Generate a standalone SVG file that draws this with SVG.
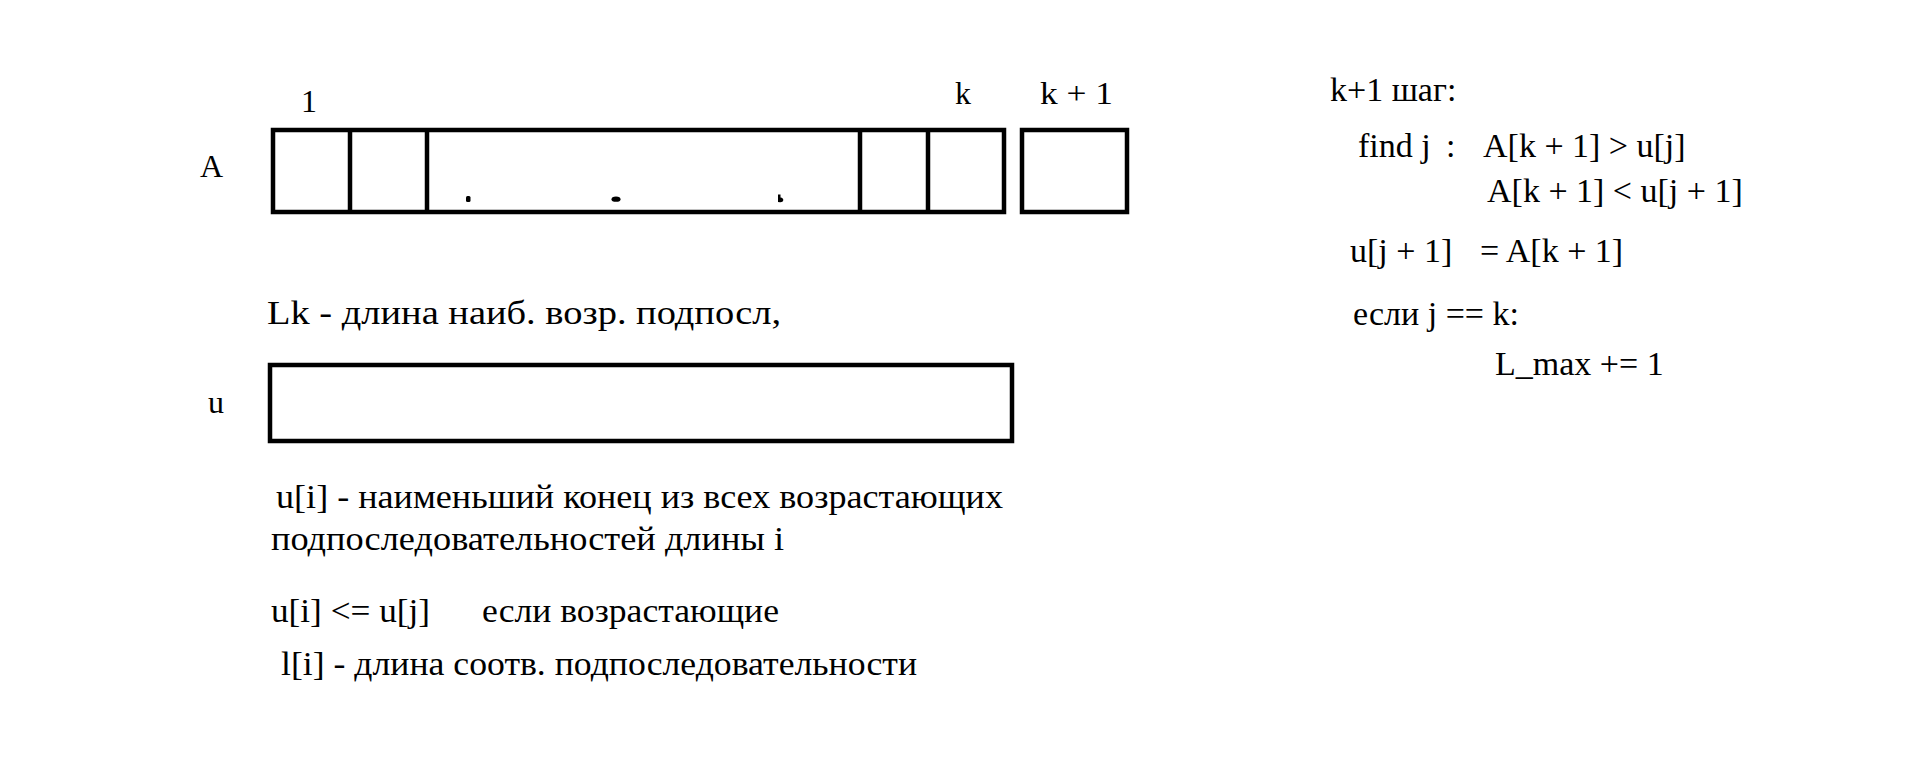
<svg xmlns="http://www.w3.org/2000/svg" width="1914" height="779" viewBox="0 0 1914 779">
<style>
.t{font-family:"Liberation Serif","Times New Roman",serif;fill:#000}
.l{font-size:34px}
.s{font-size:32px}
.r{font-size:34px}
.box{fill:none;stroke:#000;stroke-width:4.5}
.div{stroke:#000;stroke-width:4.5}
</style>
<rect width="1914" height="779" fill="#fff"/>
<g id="array-A">
<text class="t s" x="200" y="177">A</text>
<text class="t s" x="301" y="112">1</text>
<text class="t s" x="955" y="104">k</text>
<text class="t s" x="1040" y="104" textLength="73" lengthAdjust="spacingAndGlyphs">k + 1</text>
<rect class="box" x="273" y="130" width="731" height="82"/>
<line class="div" x1="350" y1="130" x2="350" y2="212"/>
<line class="div" x1="427" y1="130" x2="427" y2="212"/>
<line class="div" x1="860" y1="130" x2="860" y2="212"/>
<line class="div" x1="928" y1="130" x2="928" y2="212"/>
<rect class="box" x="1022" y="130" width="105" height="82"/>
<rect x="466" y="196" width="4.5" height="6" rx="1.5" fill="#000"/>
<ellipse cx="616" cy="199.2" rx="4.5" ry="2.6" fill="#000"/>
<path d="M778 194.5 L780.5 194.5 L780.5 197.5 Q783.5 198 783.3 200.3 Q783 202.5 780 202.3 L778 202 Z" fill="#000"/>
</g>
<g id="lk-note">
<text class="t l" x="267" y="324" textLength="514" lengthAdjust="spacingAndGlyphs">Lk - длина наиб. возр. подпосл,</text>
</g>
<g id="array-u">
<text class="t s" x="208" y="413">u</text>
<rect class="box" x="270" y="365" width="742" height="76"/>
</g>
<g id="u-notes">
<text class="t l" x="276" y="508" textLength="727" lengthAdjust="spacingAndGlyphs">u[i] - наименьший конец из всех возрастающих</text>
<text class="t l" x="271" y="550" textLength="513" lengthAdjust="spacingAndGlyphs">подпоследовательностей длины i</text>
<text class="t l" x="271" y="622" textLength="159" lengthAdjust="spacingAndGlyphs">u[i] &lt;= u[j]</text>
<text class="t l" x="482" y="622" textLength="297" lengthAdjust="spacingAndGlyphs">если возрастающие</text>
<text class="t l" x="281" y="675" textLength="636" lengthAdjust="spacingAndGlyphs">l[i] - длина соотв. подпоследовательности</text>
</g>
<g id="step">
<text class="t r" x="1330" y="101">k+1 шаг:</text>
<text class="t r" x="1358" y="157">find j</text>
<text class="t r" x="1446" y="157">:</text>
<text class="t r" x="1483" y="157">A[k + 1] &gt; u[j]</text>
<text class="t r" x="1487" y="202">A[k + 1] &lt; u[j + 1]</text>
<text class="t r" x="1350" y="262">u[j + 1]</text>
<text class="t r" x="1480" y="262">= A[k + 1]</text>
<text class="t r" x="1353" y="325">если j == k:</text>
<text class="t r" x="1495" y="375">L_max += 1</text>
</g>
<g id="connectors"/>
</svg>
